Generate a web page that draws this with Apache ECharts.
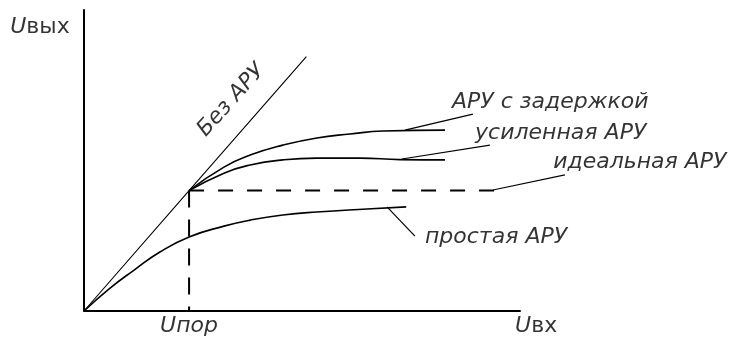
<!DOCTYPE html>
<html>
<head>
<meta charset="utf-8">
<style>
  html, body { margin: 0; padding: 0; background: #fff; }
  #chart { width: 735px; height: 337px; }
</style>
<script src="https://cdn.jsdelivr.net/npm/echarts@6/dist/echarts.min.js"></script>
</head>
<body>
<div id="chart"></div>
<script>
// Amplitude characteristics of AGC systems: Uвых versus Uвх (relative units, 0..100)
const uThreshold = 24.1;     // Uпор
const uIdealLevel = 40;      // output level held by ideal AGC
const idealEndX = 94.7;

// Без АРУ: straight line through origin
const noAgcX = [0, uThreshold, 51];
const noAgcY = [0, uIdealLevel, 84.5];

// АРУ с задержкой
const delayedX = [24.1, 32.1, 38.1, 45.6, 53.4, 61.0, 68.6, 82.8];
const delayedY = [40, 47.8, 51.8, 55.1, 57.5, 58.8, 59.8, 60.1];

// усиленная АРУ
const amplifiedX = [24.1, 32.1, 38.1, 45.6, 53.4, 63.3, 72.5, 82.8];
const amplifiedY = [40, 45.8, 48.5, 50.2, 50.8, 50.8, 50.3, 50.2];

// простая АРУ
const simpleX = [0, 5.7, 11.5, 17.4, 24.1, 32.1, 38.1, 45.6, 53.4, 64.9, 73.9];
const simpleY = [0, 7.3, 13.6, 19.6, 24.6, 28.2, 30.2, 31.9, 32.9, 33.9, 34.6];

// Curve captions with their leader lines (start near text, end on curve)
const captions = ['АРУ с задержкой', 'усиленная АРУ', 'идеальная АРУ', 'простая АРУ'];
const captionX = [84.4, 89.7, 107.6, 78.2];
const captionY = [69.4, 59.1, 49.5, 24.6];
const leaderFromX = [89.2, 93.1, 110.3, 75.9];
const leaderFromY = [65.4, 55.1, 45.2, 24.9];
const leaderToX = [73.6, 72.9, 93.8, 69.5];
const leaderToY = [60.1, 50.5, 40.2, 34.6];

// Rotated caption along the "Без АРУ" line
const noAgcCaption = 'Без АРУ';
const noAgcCaptionPos = [33.8, 70.0];

// Axis captions
const yAxisTitle = 'Uвых';
const xAxisTitle = 'Uвх';
const thresholdTitle = 'Uпор';

const zip = (xs, ys) => xs.map((x, i) => [x, ys[i]]);
const FONT = '"DejaVu Sans", sans-serif';
const INK = '#000';
const FS = 22;

const curve = (name, xs, ys, width, extra) => Object.assign({
  name, type: 'line', data: zip(xs, ys), symbol: 'none', clip: false,
  lineStyle: { color: INK, width: width }, z: 3
}, extra || {});

// leader lines drawn through the cartesian coordinate system
const leaderSeries = {
  type: 'custom', clip: false, silent: true, z: 4,
  data: captions.map((c, i) => [leaderFromX[i], leaderFromY[i], leaderToX[i], leaderToY[i]]),
  renderItem: (params, api) => {
    const a = api.coord([api.value(0), api.value(1)]);
    const b = api.coord([api.value(2), api.value(3)]);
    return {
      type: 'line',
      shape: { x1: a[0], y1: a[1], x2: b[0], y2: b[1] },
      style: { stroke: INK, lineWidth: 1.2 }
    };
  }
};

const textStyleBase = {
  show: true, fontFamily: FONT, fontSize: FS, color: INK, fontStyle: 'italic'
};
const italicU = { i: { fontStyle: 'italic', fontFamily: FONT, fontSize: FS, color: INK } };

const labelSeries = {
  type: 'scatter', symbolSize: 0, clip: false, silent: true, z: 5,
  data: [
    ...captions.map((c, i) => ({
      value: [captionX[i], captionY[i]],
      label: Object.assign({}, textStyleBase, { position: 'right', distance: 0, formatter: c })
    })),
    {
      value: noAgcCaptionPos,
      label: Object.assign({}, textStyleBase, { position: 'inside', rotate: 48, formatter: noAgcCaption })
    },
    {
      value: [-10.1, 94.4],
      label: Object.assign({}, textStyleBase, { fontStyle: 'normal', position: 'inside',
        formatter: '{i|U}' + yAxisTitle.slice(1), rich: italicU })
    },
    {
      value: [103.7, -5],
      label: Object.assign({}, textStyleBase, { fontStyle: 'normal', position: 'inside',
        formatter: '{i|U}' + xAxisTitle.slice(1), rich: italicU })
    },
    {
      value: [uThreshold, -5],
      label: Object.assign({}, textStyleBase, { position: 'inside', formatter: thresholdTitle })
    }
  ]
};

const chart = echarts.init(document.getElementById('chart'), null, { renderer: 'canvas' });
chart.setOption({
  animation: false,
  backgroundColor: '#fff',
  grid: { left: 84, top: 10, width: 436, height: 301 },
  xAxis: {
    type: 'value', min: 0, max: 100,
    axisLine: { show: true, lineStyle: { color: INK, width: 2 } },
    axisTick: { show: false }, axisLabel: { show: false }, splitLine: { show: false }
  },
  yAxis: {
    type: 'value', min: 0, max: 100,
    axisLine: { show: true, lineStyle: { color: INK, width: 2 } },
    axisTick: { show: false }, axisLabel: { show: false }, splitLine: { show: false }
  },
  series: [
    curve('Без АРУ', noAgcX, noAgcY, 1.1),
    curve('АРУ с задержкой', delayedX, delayedY, 1.6, { smooth: 0.5 }),
    curve('усиленная АРУ', amplifiedX, amplifiedY, 1.6, { smooth: 0.5 }),
    curve('простая АРУ', simpleX, simpleY, 1.6, { smooth: 0.5 }),
    curve('идеальная АРУ', [uThreshold, idealEndX], [uIdealLevel, uIdealLevel], 2,
      { lineStyle: { color: INK, width: 2, type: [15, 14] } }),
    curve('Uпор', [uThreshold, uThreshold], [uIdealLevel, 0], 2,
      { lineStyle: { color: INK, width: 2, type: [17, 12] } }),
    leaderSeries,
    labelSeries
  ]
});
</script>
</body>
</html>
